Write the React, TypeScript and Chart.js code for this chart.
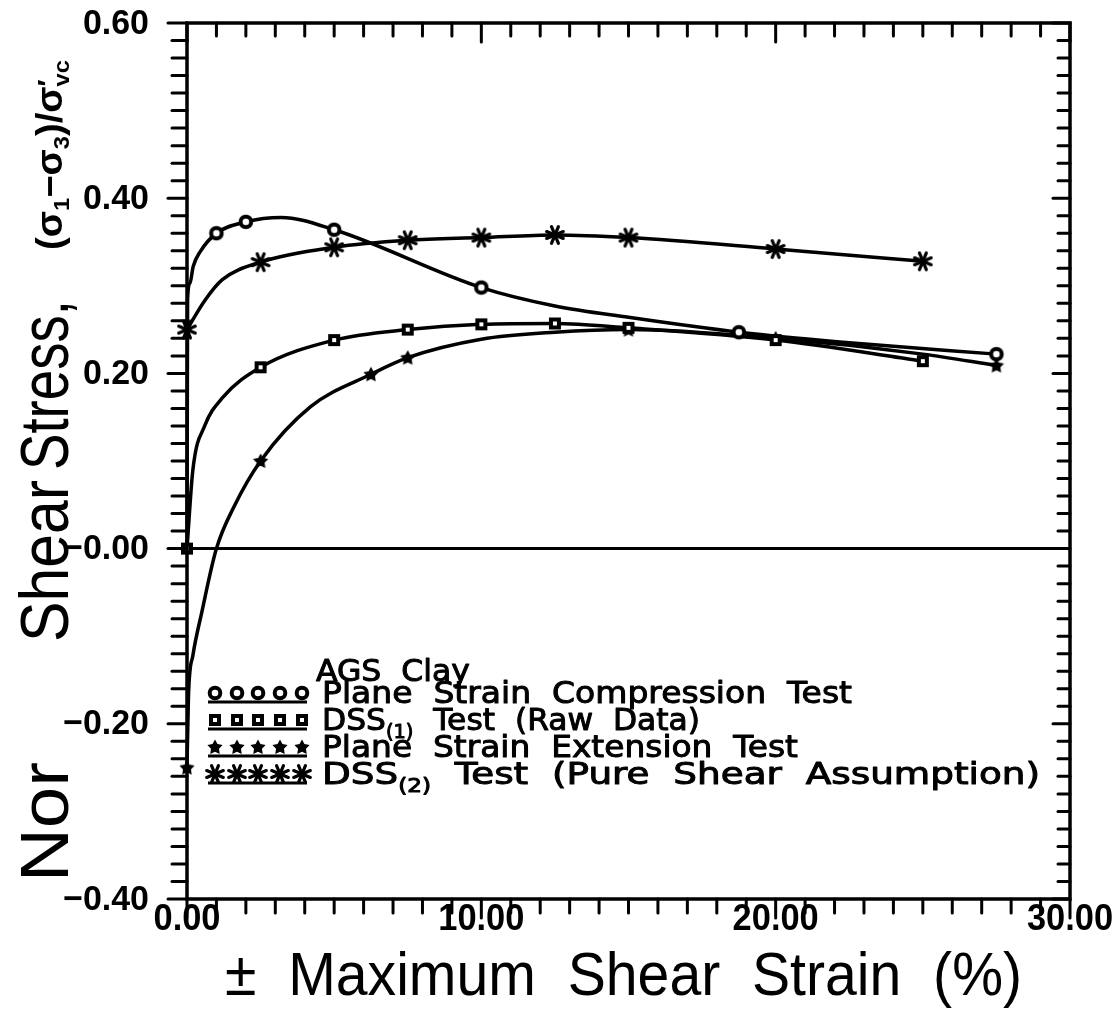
import React, { useEffect, useRef } from 'react';
import { Chart, registerables } from 'chart.js';

Chart.register(...registerables);

// ---------------- data ----------------
// Plane Strain Compression Test (circles)
const pscCurveX = [0, 0.02, 0.1, 0.21, 0.45, 1, 2, 3.2, 5, 10, 12.5, 15, 18.75, 22.5, 27.5];
const pscCurveY = [0, 0.285, 0.303, 0.322, 0.339, 0.36, 0.373, 0.378, 0.364, 0.298, 0.277, 0.264, 0.247, 0.235, 0.222];
const pscMarkX = [1, 2, 5, 10, 18.75, 27.5];
const pscMarkY = [0.36, 0.373, 0.364, 0.298, 0.247, 0.222];

// DSS(1) Test (Raw Data) (squares)
const dss1CurveX = [0, 0.2, 0.6, 1.2, 2.5, 5, 7.5, 10, 12.5, 15, 20, 25];
const dss1CurveY = [0, 0.09, 0.14, 0.172, 0.207, 0.238, 0.25, 0.256, 0.257, 0.252, 0.238, 0.214];
const dss1MarkX = [0, 2.5, 5, 7.5, 10, 12.5, 15, 20, 25];
const dss1MarkY = [0, 0.207, 0.238, 0.25, 0.256, 0.257, 0.252, 0.238, 0.214];

// Plane Strain Extension Test (filled stars)
const pseCurveX = [0, 0.05, 0.2, 0.5, 1, 1.6, 2.5, 4.2, 6.25, 7.5, 10, 12.5, 15, 20, 25, 27.5];
const pseCurveY = [-0.25, -0.168, -0.122, -0.073, 0, 0.048, 0.1, 0.162, 0.199, 0.218, 0.239, 0.247, 0.25, 0.24, 0.222, 0.209];
const pseMarkX = [0, 2.5, 6.25, 7.5, 15, 20, 27.5];
const pseMarkY = [-0.25, 0.1, 0.199, 0.218, 0.25, 0.24, 0.209];

// DSS(2) Test (Pure Shear Assumption) (asterisks)
const dss2CurveX = [0, 0.6, 1.2, 2.5, 5, 7.5, 10, 12.5, 15, 20, 25];
const dss2CurveY = [0.25, 0.283, 0.307, 0.327, 0.344, 0.352, 0.355, 0.358, 0.355, 0.342, 0.328];
const dss2MarkX = [0, 2.5, 5, 7.5, 10, 12.5, 15, 20, 25];
const dss2MarkY = [0.25, 0.327, 0.344, 0.352, 0.355, 0.358, 0.355, 0.342, 0.328];

// axes
const xMin = 0, xMax = 30, xMinorStep = 1;
const yMin = -0.4, yMax = 0.6, yMinorStep = 0.02;
const xMajorTicks = [0, 10, 20, 30];
const xTickLabels = ['0.00', '10.00', '20.00', '30.00'];
const yMajorTicks = [-0.4, -0.2, 0, 0.2, 0.4, 0.6];
const yTickLabels = ['\u22120.40', '\u22120.20', '\u22120.00', '0.20', '0.40', '0.60'];

const legendTitle = 'AGS  Clay';
const seriesNames = [
  [{ t: 'Plane  Strain  Compression  Test' }],
  [{ t: 'DSS' }, { t: '(1)', s: 0.62, dy: 0.25 }, { t: '  Test  (Raw  Data)' }],
  [{ t: 'Plane  Strain  Extension  Test' }],
  [{ t: 'DSS' }, { t: '(2)', s: 0.62, dy: 0.25 }, { t: '  Test  (Pure  Shear  Assumption)' }],
];
const xTitle = '\u00b1  Maximum  Shear  Strain  (%)';

// ---------------- drawing helpers ----------------
const FONT = '"Liberation Sans", Arial, sans-serif';
const FONT2 = '"DejaVu Sans", "Liberation Sans", sans-serif';
type Seg = { t: string; s?: number; dy?: number; adv?: number };

function segsWidth(ctx: CanvasRenderingContext2D, segs: Seg[], size: number, weight: string, fam: string) {
  let w = 0;
  for (const sg of segs) {
    ctx.font = `${weight} ${size * (sg.s ?? 1)}px ${fam}`;
    w += sg.adv !== undefined ? sg.adv * size : ctx.measureText(sg.t).width;
  }
  return w;
}

function fitSegs(
  ctx: CanvasRenderingContext2D,
  segs: Seg[],
  x: number,
  y: number,
  size: number,
  weight: string,
  width: number,
  fam: string = FONT,
  thicken = 0
) {
  const nat = segsWidth(ctx, segs, size, weight, fam);
  const sx = width / nat;
  ctx.save();
  ctx.translate(x, y);
  ctx.scale(sx, 1);
  ctx.textBaseline = 'alphabetic';
  ctx.textAlign = 'left';
  ctx.fillStyle = '#000';
  ctx.strokeStyle = '#000';
  ctx.lineJoin = 'round';
  let cx = 0;
  for (const sg of segs) {
    ctx.font = `${weight} ${size * (sg.s ?? 1)}px ${fam}`;
    ctx.fillText(sg.t, cx, (sg.dy ?? 0) * size);
    if (thicken > 0) {
      ctx.lineWidth = thicken;
      ctx.strokeText(sg.t, cx, (sg.dy ?? 0) * size);
    }
    cx += sg.adv !== undefined ? sg.adv * size : ctx.measureText(sg.t).width;
  }
  ctx.restore();
}

function fitRotated(
  ctx: CanvasRenderingContext2D,
  segs: Seg[],
  baseX: number,
  startY: number,
  endY: number,
  size: number,
  weight: string,
  fam: string = FONT
) {
  ctx.save();
  ctx.translate(baseX, startY);
  ctx.rotate(-Math.PI / 2);
  fitSegs(ctx, segs, 0, 0, size, weight, startY - endY, fam);
  ctx.restore();
}

function makeImg(w: number, h: number, draw: (g: CanvasRenderingContext2D) => void) {
  const c = document.createElement('canvas');
  c.width = w;
  c.height = h;
  const g = c.getContext('2d') as CanvasRenderingContext2D;
  draw(g);
  return c;
}

export default function App() {
  const ref = useRef<HTMLCanvasElement>(null);

  useEffect(() => {
    const canvas = ref.current;
    if (!canvas) return;

    const circleImg = makeImg(18, 18, (g) => {
      g.beginPath();
      g.arc(9, 9, 5.3, 0, Math.PI * 2);
      g.fillStyle = '#fff';
      g.fill();
      g.lineWidth = 4;
      g.strokeStyle = '#000';
      g.stroke();
    });
    const squareImg = makeImg(14, 14, (g) => {
      g.fillStyle = '#000';
      g.fillRect(1, 1, 12, 12);
      g.fillStyle = '#fff';
      g.fillRect(5, 5, 4, 4);
    });
    const starImg = makeImg(18, 18, (g) => {
      g.beginPath();
      for (let i = 0; i < 10; i++) {
        const r = i % 2 === 0 ? 8 : 4.2;
        const a = -Math.PI / 2 + (i * Math.PI) / 5;
        const px = 9 + r * Math.cos(a);
        const py = 9.5 + r * Math.sin(a);
        if (i === 0) g.moveTo(px, py);
        else g.lineTo(px, py);
      }
      g.closePath();
      g.fillStyle = '#000';
      g.fill();
    });
    const asteriskImg = makeImg(24, 24, (g) => {
      g.strokeStyle = '#000';
      g.lineWidth = 3.2;
      g.lineCap = 'round';
      for (let k = 0; k < 4; k++) {
        const a = (k * Math.PI) / 4 + Math.PI / 8;
        g.beginPath();
        g.moveTo(12 - 9 * Math.cos(a), 12 - 9 * Math.sin(a));
        g.lineTo(12 + 9 * Math.cos(a), 12 + 9 * Math.sin(a));
        g.stroke();
      }
    });
    const legendImgs = [circleImg, squareImg, starImg, asteriskImg];

    const pts = (xs: number[], ys: number[]) => xs.map((x, i) => ({ x, y: ys[i] }));
    const curve = (xs: number[], ys: number[]) => ({
      data: pts(xs, ys),
      borderColor: '#000',
      borderWidth: 3.5,
      pointRadius: 0,
      cubicInterpolationMode: 'monotone' as const,
      fill: false,
      clip: false as any,
      order: 2,
    });
    const marks = (xs: number[], ys: number[], img: HTMLCanvasElement) => ({
      data: pts(xs, ys),
      showLine: false,
      pointStyle: img,
      pointRadius: 6,
      clip: false as any,
      order: 1,
    });

    const framePlugin = {
      id: 'frame',
      beforeDatasetsDraw(chart: any) {
        const { ctx, chartArea: a, scales } = chart;
        const y0 = scales.y.getPixelForValue(0);
        ctx.save();
        ctx.strokeStyle = '#000';
        ctx.lineWidth = 3;
        ctx.beginPath();
        ctx.moveTo(a.left, y0);
        ctx.lineTo(a.right, y0);
        ctx.stroke();
        ctx.restore();
      },
      afterDraw(chart: any) {
        const { ctx, chartArea: a, scales } = chart;
        const xs = scales.x;
        const ys = scales.y;
        ctx.save();
        ctx.strokeStyle = '#000';
        ctx.lineCap = 'round';
        // ticks
        ctx.lineWidth = 3;
        const nY = Math.round((yMax - yMin) / yMinorStep);
        for (let i = 0; i <= nY; i++) {
          const v = yMin + i * yMinorStep;
          const major = yMajorTicks.some((m) => Math.abs(m - v) < 1e-6);
          const py = ys.getPixelForValue(v);
          ctx.beginPath();
          ctx.moveTo(a.left, py);
          ctx.lineTo(a.left - (major ? 19 : 15), py);
          ctx.stroke();
          ctx.beginPath();
          ctx.moveTo(a.right, py);
          ctx.lineTo(a.right - (major ? 17 : 12), py);
          ctx.stroke();
        }
        const nX = Math.round((xMax - xMin) / xMinorStep);
        for (let i = 0; i <= nX; i++) {
          const v = xMin + i * xMinorStep;
          const major = xMajorTicks.some((m) => Math.abs(m - v) < 1e-6);
          const px = xs.getPixelForValue(v);
          ctx.beginPath();
          ctx.moveTo(px, a.top);
          ctx.lineTo(px, a.top + (major ? 19 : 13));
          ctx.stroke();
          ctx.beginPath();
          ctx.moveTo(px, a.bottom);
          ctx.lineTo(px, a.bottom + (major ? 19 : 14));
          ctx.stroke();
        }
        // frame
        ctx.lineWidth = 3.5;
        ctx.lineCap = 'square';
        ctx.strokeRect(a.left, a.top, a.right - a.left, a.bottom - a.top);

        // tick labels
        ctx.fillStyle = '#000';
        ctx.textBaseline = 'middle';
        yMajorTicks.forEach((v, i) => {
          const py = ys.getPixelForValue(v);
          ctx.save();
          ctx.font = `bold 35px ${FONT}`;
          const sc = 0.97;
          const w = ctx.measureText(yTickLabels[i]).width * sc;
          ctx.translate(149 - w, py + 1);
          ctx.scale(sc, 1);
          ctx.textAlign = 'left';
          ctx.fillText(yTickLabels[i], 0, 0);
          ctx.restore();
        });
        ctx.textBaseline = 'top';
        xMajorTicks.forEach((v, i) => {
          const px = xs.getPixelForValue(v);
          ctx.save();
          ctx.font = `bold 37px ${FONT}`;
          ctx.translate(px, a.bottom + 2);
          ctx.scale(0.93, 1);
          ctx.textAlign = 'center';
          ctx.fillText(xTickLabels[i], 0, 0);
          ctx.restore();
        });

        // axis titles
        fitSegs(ctx, [{ t: xTitle }], 225, 995, 62, 'normal', 797);
        fitRotated(ctx, [{ t: 'Nor' }], 68, 882, 762, 68, 'normal');
        fitRotated(ctx, [{ t: 'Shear' }], 68, 642, 480, 68, 'normal');
        fitRotated(ctx, [{ t: 'Stress,' }], 68, 470, 300, 68, 'normal');
        fitRotated(
          ctx,
          [
            { t: '(' },
            { t: '\u03c3' },
            { t: '1', s: 0.62, dy: 0.2 },
            { t: '\u2212' },
            { t: '\u03c3' },
            { t: '3', s: 0.62, dy: 0.2 },
            { t: ')/' },
            { t: '\u03c3' },
            { t: '\u2032', s: 0.75, dy: -0.15, adv: 0 },
            { t: 'vc', s: 0.62, dy: 0.2 },
          ],
          62,
          250,
          60,
          36,
          'bold'
        );

        // legend
        fitSegs(ctx, [{ t: legendTitle }], 316, 681, 31, 'normal', 154, FONT2, 1);
        const rowY = [693, 720, 747, 774];
        const rowEnd = [852, 700, 798, 1040];
        const markX = [215, 237, 258, 280, 302];
        rowY.forEach((ry, r) => {
          const img = legendImgs[r];
          markX.forEach((mx) => ctx.drawImage(img, mx - img.width / 2, ry - img.height / 2));
          ctx.lineWidth = 3;
          ctx.lineCap = 'butt';
          ctx.beginPath();
          ctx.moveTo(208, ry + 9);
          ctx.lineTo(307, ry + 9);
          ctx.stroke();
          fitSegs(ctx, seriesNames[r] as Seg[], 322, ry + 10, 31, 'normal', rowEnd[r] - 322, FONT2, 1);
        });
        ctx.restore();
      },
    };

    const chart = new Chart(canvas, {
      type: 'line',
      data: {
        datasets: [
          marks(pscMarkX, pscMarkY, circleImg),
          marks(dss1MarkX, dss1MarkY, squareImg),
          marks(pseMarkX, pseMarkY, starImg),
          marks(dss2MarkX, dss2MarkY, asteriskImg),
          curve(pscCurveX, pscCurveY),
          curve(dss1CurveX, dss1CurveY),
          curve(pseCurveX, pseCurveY),
          curve(dss2CurveX, dss2CurveY),
        ] as any,
      },
      options: {
        animation: false,
        responsive: false,
        events: [],
        layout: { padding: { left: 187, right: 48, top: 23, bottom: 117 } },
        plugins: {
          legend: { display: false },
          tooltip: { enabled: false },
          title: { display: false },
        },
        scales: {
          x: { type: 'linear', min: xMin, max: xMax, display: false },
          y: { type: 'linear', min: yMin, max: yMax, display: false },
        },
      },
      plugins: [framePlugin],
    });
    return () => chart.destroy();
  }, []);

  return (
    <div style={{ position: 'fixed', left: 0, top: 0, width: 1118, height: 1016, background: '#fff' }}>
      <canvas ref={ref} width={1118} height={1016} style={{ display: 'block' }} />
    </div>
  );
}
